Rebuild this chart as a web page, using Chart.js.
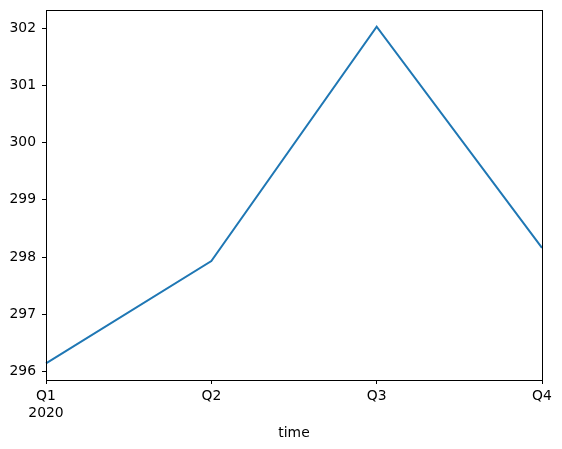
<!DOCTYPE html>
<html>
<head>
<meta charset="utf-8">
<script src="https://cdn.jsdelivr.net/npm/chart.js@4/dist/chart.umd.min.js"></script>
<style>
  html, body { margin: 0; padding: 0; background: #fff; }
  canvas { display: block; }
</style>
</head>
<body>
<canvas id="chart" width="562" height="449"></canvas>
<script>
// ─── DATA ───
const quarters = ['Q1', 'Q2', 'Q3', 'Q4'];
const yearLabel = '2020';
const values = [296.14, 297.93, 302.03, 298.16];
const yTicks = [296, 297, 298, 299, 300, 301, 302];

const FONT = 'DejaVu Sans';

// box around the plot area, like matplotlib spines
const frame = {
    id: 'frame',
    afterDraw(chart) {
        const { ctx, chartArea: a } = chart;
        ctx.save();
        ctx.strokeStyle = '#000';
        ctx.lineWidth = 1;
        ctx.strokeRect(Math.round(a.left) + 0.5, Math.round(a.top) + 0.5,
            Math.round(a.right - a.left), Math.round(a.bottom - a.top));
        ctx.restore();
    }
};

new Chart(document.getElementById('chart'), {
    type: 'line',
    data: {
        labels: quarters,
        datasets: [{
            data: values,
            borderColor: '#1f77b4',
            borderWidth: 2,
            pointRadius: 0,
            tension: 0,
            fill: false
        }]
    },
    options: {
        responsive: false,
        animation: false,
        layout: { padding: { top: 10, right: 20, left: 0, bottom: 0 } },
        plugins: { legend: { display: false }, tooltip: { enabled: false } },
        scales: {
            x: {
                type: 'category',
                offset: false,
                grid: { drawOnChartArea: false, drawTicks: true, tickLength: 4, color: '#000' },
                border: { display: false },
                ticks: {
                    color: '#000',
                    font: { family: FONT, size: 13.9 },
                    padding: 4,
                    maxRotation: 0,
                    autoSkip: false,
                    callback: (v, i) => i === 0 ? [quarters[0], yearLabel] : quarters[i]
                },
                title: {
                    display: true,
                    text: 'time',
                    color: '#000',
                    font: { family: FONT, size: 13.9 },
                    padding: { top: 0, bottom: 7 }
                },
                afterFit: s => { s.height = 69; s.paddingLeft = 0; s.paddingRight = 0; }
            },
            y: {
                min: 295.85,
                max: 302.32,
                grid: { drawOnChartArea: false, drawTicks: true, tickLength: 4, color: '#000' },
                border: { display: false },
                ticks: {
                    color: '#000',
                    font: { family: FONT, size: 13.9 },
                    padding: 6
                },
                afterBuildTicks: axis => { axis.ticks = yTicks.map(v => ({ value: v })); },
                afterFit: s => { s.width = 46; s.paddingTop = 0; s.paddingBottom = 0; }
            }
        }
    },
    plugins: [frame]
});
</script>
</body>
</html>
